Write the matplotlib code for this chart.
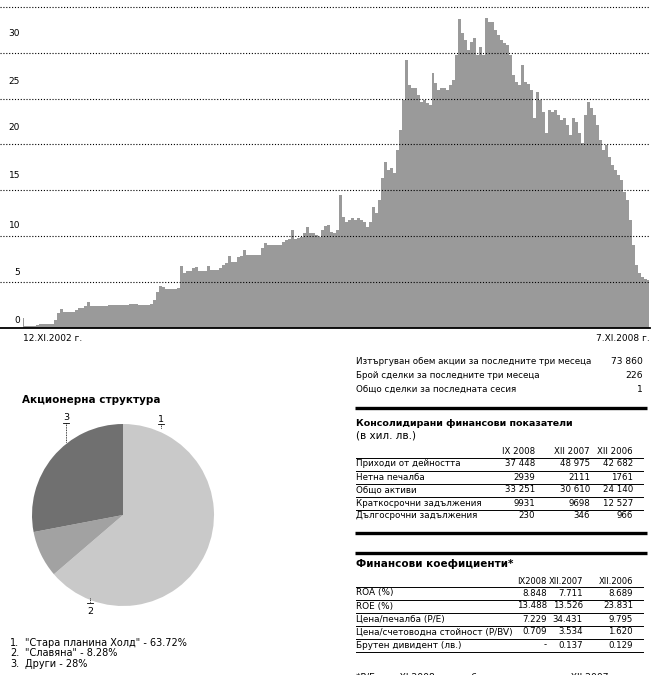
import matplotlib
matplotlib.use("Agg")
import matplotlib.pyplot as plt
import numpy as np

plt.rcParams['font.family'] = ['Liberation Sans Narrow', 'DejaVu Sans']

# ---- данни: цена на акцията (лв.), 12.XI.2002 - 7.XI.2008 ----
prices = [
    1.09, 0.22, 0.22, 0.22, 0.22, 0.33, 0.44, 0.44, 0.44, 0.44,
    0.44, 0.87, 1.63, 2.07, 1.74, 1.74, 1.74, 1.74, 1.96, 2.18,
    2.18, 2.40, 2.83, 2.40, 2.40, 2.40, 2.40, 2.40, 2.40, 2.51,
    2.51, 2.51, 2.51, 2.51, 2.51, 2.51, 2.61, 2.61, 2.61, 2.51,
    2.51, 2.51, 2.51, 2.61, 3.05, 3.92, 4.58, 4.47, 4.25, 4.25,
    4.25, 4.25, 4.36, 6.75, 5.99, 6.21, 6.21, 6.54, 6.64, 6.21,
    6.21, 6.21, 6.75, 6.32, 6.32, 6.32, 6.54, 6.86, 7.08, 7.84,
    7.19, 7.19, 7.73, 7.84, 8.50, 7.95, 7.95, 7.95, 7.95, 7.95,
    8.71, 9.26, 9.04, 9.04, 9.04, 9.04, 9.04, 9.37, 9.59, 9.69,
    10.68, 9.69, 9.80, 9.91, 10.35, 11.00, 10.35, 10.35, 10.13, 9.91,
    10.68, 11.11, 11.22, 10.46, 10.35, 10.68, 14.49, 12.09, 11.55, 11.76,
    11.98, 11.76, 11.98, 11.76, 11.55, 11.00, 11.55, 13.18, 12.53, 13.94,
    16.34, 18.08, 17.21, 17.43, 16.88, 19.39, 21.57, 24.84, 29.19, 26.47,
    26.14, 26.14, 25.38, 24.62, 24.84, 24.51, 24.29, 27.78, 26.69, 25.93,
    26.14, 26.14, 25.93, 26.47, 27.02, 29.74, 33.66, 32.14, 31.37, 30.28,
    31.15, 31.59, 29.74, 30.61, 29.74, 33.77, 33.33, 33.33, 32.46, 31.92,
    31.37, 31.05, 30.83, 29.74, 27.56, 26.80, 26.47, 28.65, 26.80, 26.58,
    25.93, 22.88, 25.71, 24.84, 23.53, 21.24, 23.75, 23.53, 23.75, 23.20,
    22.66, 22.88, 22.11, 21.02, 22.88, 22.44, 21.24, 20.15, 23.20, 24.62,
    23.97, 23.20, 22.11, 20.48, 19.39, 19.93, 18.63, 17.76, 17.21, 16.67,
    16.12, 14.81, 13.94, 11.76, 9.04, 6.86, 5.99, 5.56, 5.34, 5.23,
]
date_labels = ["12.XI.2002 г.", "7.XI.2008 г."]
y_labels = ["0", "5", "10", "15", "20", "25", "30"]

# ---- акционерна структура ----
pie_names = ['"Стара планина Холд"', '"Славяна"', 'Други']
pie_shares = [63.72, 8.28, 28.0]
pie_colors = ['#c9c9c9', '#a2a2a2', '#707070']

# ---- търговия ----
trade_rows = [
    ("Изтъргуван обем акции за последните три месеца", "73 860"),
    ("Брой сделки за последните три месеца", "226"),
    ("Общо сделки за последната сесия", "1"),
]

# ---- консолидирани финансови показатели ----
fin_cols = ["IX 2008", "XII 2007", "XII 2006"]
fin_rows = ["Приходи от дейността", "Нетна печалба", "Общо активи",
            "Краткосрочни задължения", "Дългосрочни задължения"]
fin_vals = [
    ["37 448", "48 975", "42 682"],
    ["2939", "2111", "1761"],
    ["33 251", "30 610", "24 140"],
    ["9931", "9698", "12 527"],
    ["230", "346", "966"],
]

# ---- финансови коефициенти ----
rat_cols = ["IX2008", "XII.2007", "XII.2006"]
rat_rows = ["ROA (%)", "ROE (%)", "Цена/печалба (P/E)",
            "Цена/счетоводна стойност (P/BV)", "Брутен дивидент (лв.)"]
rat_vals = [
    ["8.848", "7.711", "8.689"],
    ["13.488", "13.526", "23.831"],
    ["7.229", "34.431", "9.795"],
    ["0.709", "3.534", "1.620"],
    ["-", "0.137", "0.129"],
]

W, H = 653, 675
fig = plt.figure(figsize=(W / 100, H / 100), dpi=100)
fig.patch.set_facecolor("white")


def box(x0, y0, x1, y1):
    # пикселни координати (горе-ляво) -> дял от фигурата
    return [x0 / W, 1 - y1 / H, (x1 - x0) / W, (y1 - y0) / H]


# ---------------- графика на цената ----------------
ax = fig.add_axes(box(0, 0, 650, 328))
idx = np.arange(len(prices))
ax.fill_between(idx, prices, 0, step="mid", color="#9a9a9a", lw=0)
ax.set_xlim(-23 / 3, len(prices) - 0.5)
ax.set_ylim(0, 328 / 9.18)

ax.set_yticks([5, 10, 15, 20, 25, 30, 35], labels=[])
ax.set_yticks([0.9, 6.2, 11.3, 16.7, 21.9, 27.0, 32.2], labels=y_labels, minor=True)
ax.tick_params(axis="y", which="both", length=0)
ax.tick_params(axis="y", which="minor", pad=-14.4, labelsize=6.5)
ax.grid(axis="y", which="major", color="black", linestyle=(0, (1, 1.6)), lw=0.8)
ax.set_axisbelow(False)

ax.set_xticks([0, len(prices) - 0.7], labels=date_labels)
ax.tick_params(axis="x", length=0, pad=4, labelsize=6.5)
tl = ax.get_xticklabels()
tl[0].set_ha("left")
tl[1].set_ha("right")

for s in ["top", "left", "right"]:
    ax.spines[s].set_visible(False)
ax.spines["bottom"].set_linewidth(1.3)
ax.set_facecolor("none")

# ---------------- кръгова диаграма ----------------
pax = fig.add_axes(box(123 - 91, 515 - 91, 123 + 91, 515 + 91))
pax.pie(pie_shares, colors=pie_colors, startangle=90, counterclock=False,
        radius=1, wedgeprops=dict(linewidth=0))
pax.set_xlim(-1, 1)
pax.set_ylim(-1, 1)
pax.set_aspect("equal")
pax.axis("off")

# ---------------- слой за текст и линии ----------------
ov = fig.add_axes([0, 0, 1, 1])
ov.set_xlim(0, W)
ov.set_ylim(H, 0)
ov.axis("off")

fs = 6.8
ov.text(1, -3, "(лв.)", fontsize=fs, va="center", ha="left")

# надписи към кръговата диаграма
ov.text(22, 400, "Акционерна структура", fontsize=7.5, fontweight="bold", va="center")
ov.text(161, 419, "1", fontsize=fs, ha="center", va="center")
ov.plot([158, 164], [424, 424], color="black", lw=0.6)
ov.plot([161, 161], [424, 429], color="black", lw=0.6, ls=(0, (1, 1)))
ov.text(66, 418, "3", fontsize=fs, ha="center", va="center")
ov.plot([63, 69], [423, 423], color="black", lw=0.6)
ov.plot([66, 66], [423, 443], color="black", lw=0.6, ls=(0, (1, 1)))
ov.text(90, 611, "2", fontsize=fs, ha="center", va="center")
ov.plot([87, 93], [603, 603], color="black", lw=0.6)
ov.plot([90, 90], [598, 603], color="black", lw=0.6, ls=(0, (1, 1)))

for k, (name, share) in enumerate(zip(pie_names, pie_shares)):
    y = 643 + k * 10.5
    ov.text(10, y, f"{k + 1}.", fontsize=7, va="center")
    ov.text(25, y, f"{name} - {share:g}%", fontsize=7, va="center")

# търговия
L = 356
for k, (lab, val) in enumerate(trade_rows):
    y = 361 + k * 14
    ov.text(L, y, lab, fontsize=6.3, va="center")
    ov.text(643, y, val, fontsize=6.6, va="center", ha="right")

ov.plot([L - 1, 647], [408, 408], color="black", lw=2.4, solid_capstyle="butt")

# консолидирани показатели
ov.text(L, 424, "Консолидирани финансови показатели", fontsize=6.8,
        fontweight="bold", va="center")
ov.text(L, 436, "(в хил. лв.)", fontsize=7.5, va="center")
col_r = [535, 590, 633]
for c, h in zip(col_r, fin_cols):
    ov.text(c, 452, h, fontsize=6.2, ha="right", va="center")
ov.plot([L, 643], [458, 458], color="black", lw=0.7)
for r, (lab, vals) in enumerate(zip(fin_rows, fin_vals)):
    y = 464 + r * 13
    ov.text(L, y, lab, fontsize=6.3, va="center")
    for c, v in zip(col_r, vals):
        ov.text(c, y, v, fontsize=6.2, ha="right", va="center")
    if r < len(fin_rows) - 1:
        ov.plot([L, 643], [y + 6.5, y + 6.5], color="black", lw=0.7)

ov.plot([L - 1, 647], [533, 533], color="black", lw=2.4, solid_capstyle="butt")
ov.plot([L - 1, 647], [553, 553], color="black", lw=2.4, solid_capstyle="butt")

# финансови коефициенти
ov.text(L, 564, "Финансови коефициенти*", fontsize=7.5, fontweight="bold", va="center")
col_r2 = [547, 583, 633]
for c, h in zip(col_r2, rat_cols):
    ov.text(c, 581, h, fontsize=6.0, ha="right", va="center")
ov.plot([L, 643], [586.5, 586.5], color="black", lw=0.7)
for r, (lab, vals) in enumerate(zip(rat_rows, rat_vals)):
    y = 593 + r * 13
    ov.text(L, y, lab, fontsize=6.4, va="center")
    for c, v in zip(col_r2, vals):
        ov.text(c, y, v, fontsize=6.2, ha="right", va="center")
    ov.plot([L, 643], [y + 6.5, y + 6.5], color="black", lw=0.7)

ov.text(L, 678, "*P/E към XI.2008 г. е на база резултати към XII.2007 г.",
        fontsize=6.6, va="center")

fig.savefig("out.png", dpi=100)
